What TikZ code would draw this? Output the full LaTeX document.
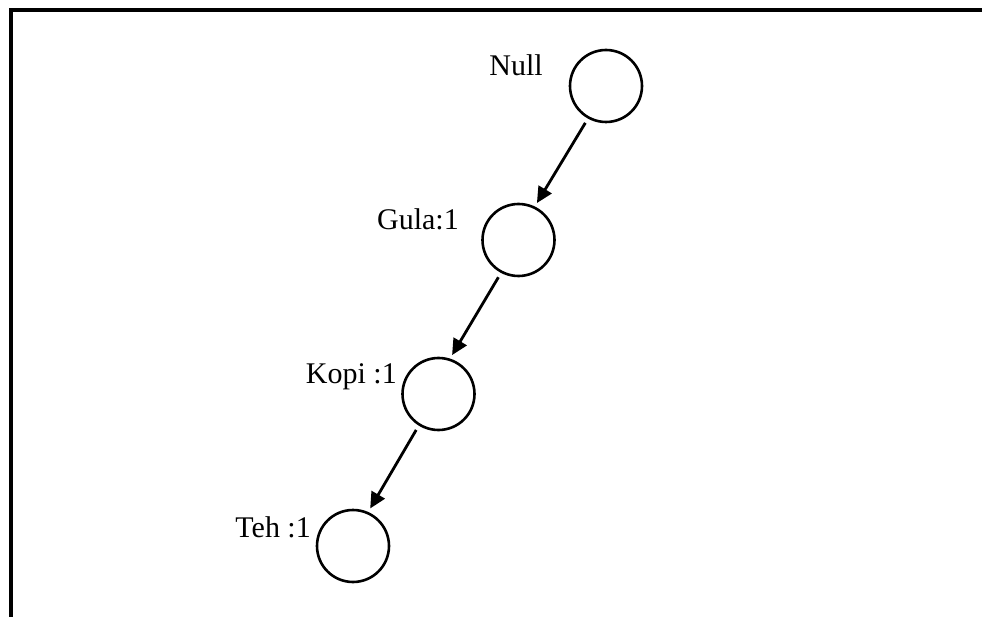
\documentclass[tikz,border=0pt]{standalone}
\usepackage{fontspec}
\setmainfont{Liberation Serif}
\usetikzlibrary{arrows.meta}
\begin{document}
\begin{tikzpicture}[x=1pt,y=-1pt,
  item/.style={circle,draw,line width=2.6pt,minimum size=72pt,inner sep=0pt},
  tag/.style={anchor=base east,inner sep=0pt,font=\fontsize{30}{33}\selectfont},
  link/.style={line width=2.8pt,-{Triangle[length=16pt,width=15pt]},shorten <=5pt,shorten >=4pt}]
\useasboundingbox (0,0) rectangle (982,617);
% outer frame (only its top and left edges fall in view)
\draw[line width=4pt,line join=miter] (10.5,617) -- (10.5,10.5) -- (982,10.5);
% tree nodes
\node[item] (null) at (606,86) {};
\node[item] (gula) at (518.5,240) {};
\node[item] (kopi) at (438.5,394) {};
\node[item] (teh)  at (353,546) {};
% labels
\node[tag] (lnull) at (543,76) {Null};
\node[tag] (lgula) at (459,230) {Gula:1};
\node[tag] (lkopi) at (397,383) {Kopi :1};
\node[tag] (lteh)  at (311,537) {Teh :1};
% connectors
\draw[link] (null.241) -- (gula.64);
\draw[link] (gula.242) -- (kopi.72);
\draw[link] (kopi.238) -- (teh.66);
\end{tikzpicture}
\end{document}
